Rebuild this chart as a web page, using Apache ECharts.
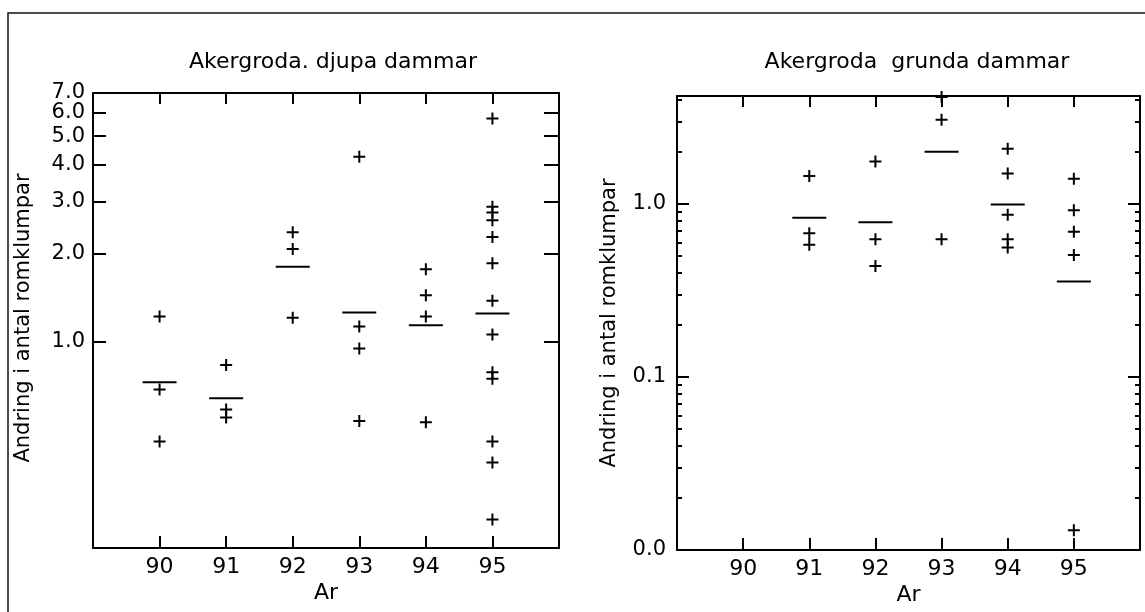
<!DOCTYPE html>
<html>
<head>
<meta charset="utf-8">
<script src="https://cdn.jsdelivr.net/npm/echarts@6/dist/echarts.min.js"></script>
<style>
  html, body { margin: 0; padding: 0; background: #fff; }
  #chart { width: 1145px; height: 612px; }
</style>
</head>
<body>
<div id="chart"></div>
<script>
// Years on the horizontal axis (19xx)
const years = [90, 91, 92, 93, 94, 95];

// Change in number of egg clumps, deep ponds: one list of ponds per year
const djupaValues = [
  [1.22, 0.69, 0.46],
  [0.835, 0.59, 0.555],
  [2.36, 2.07, 1.21],
  [4.25, 1.13, 0.95, 0.54],
  [1.765, 1.44, 1.22, 0.534],
  [5.74, 2.88, 2.75, 2.59, 2.27, 1.85, 1.38, 1.06, 0.79, 0.75, 0.46, 0.39, 0.25]
];
// Yearly mean (horizontal bar), deep ponds
const djupaMeans = [0.73, 0.645, 1.80, 1.26, 1.14, 1.25];

// Change in number of egg clumps, shallow ponds
const grundaValues = [
  [],
  [1.45, 0.677, 0.58],
  [1.756, 0.625, 0.438],
  [4.15, 3.06, 0.625],
  [2.08, 1.50, 0.864, 0.625, 0.56],
  [1.395, 0.92, 0.69, 0.507, 0.013]
];
// Yearly mean (horizontal bar), shallow ponds
const grundaMeans = [null, 0.83, 0.784, 2.0, 0.99, 0.356];

// Tick and label values of the logarithmic y axes
const djupaTicks = [1, 2, 3, 4, 5, 6, 7];
const djupaTopLabel = [7];
const grundaMajorTicks = [0.01, 0.1, 1];
const grundaMinorTicks = [0.02, 0.03, 0.04, 0.05, 0.06, 0.07, 0.08, 0.09,
                          0.2, 0.3, 0.4, 0.5, 0.6, 0.7, 0.8, 0.9, 2, 3, 4];

const titles = ['Akergroda. djupa dammar', 'Akergroda  grunda dammar'];
const yName = 'Andring i antal romklumpar';
const xName = 'Ar';

const FONT = '"DejaVu Sans", "Liberation Sans", sans-serif';
const INK = '#000';
// log10, nudged inwards a hair so end values stay inside the axis extent
const lg = v => Math.log10(v);
const lgIn = (v, lo, hi) => Math.min(Math.max(lg(v), lg(lo) + 1e-9), lg(hi) - 1e-9);

const points = (vals) => years.flatMap((yr, i) => vals[i].map(v => [yr, v]));
const means = (vals) => years.map((yr, i) => vals[i] == null ? null : [yr, vals[i]]).filter(Boolean);

const PLUS = 'path://M5,0H7V5H12V7H7V12H5V7H0V5H5Z';

const grids = [
  { left: 93, top: 93, width: 466, height: 455, outerBoundsMode: 'none' },
  { left: 677, top: 96, width: 463, height: 454, outerBoundsMode: 'none' }
];

function xAxes(gridIndex) {
  const common = {
    gridIndex, type: 'value', min: 89, max: 96, interval: 1,
    splitLine: { show: false },
    axisLine: { onZero: false, lineStyle: { color: INK, width: 2 } }
  };
  return [
    Object.assign({}, common, {
      position: 'bottom',
      axisTick: { inside: true, length: 12, customValues: years, lineStyle: { color: INK, width: 2 } },
      axisLabel: { customValues: years, margin: 8, color: INK, fontSize: 22, fontFamily: FONT },
      name: xName, nameLocation: 'middle', nameGap: 34, nameMoveOverlap: false,
      nameTextStyle: { color: INK, fontSize: 22, fontFamily: FONT }
    }),
    Object.assign({}, common, {
      position: 'top',
      axisTick: { inside: true, length: 11, customValues: years, lineStyle: { color: INK, width: 2 } },
      axisLabel: { show: false }
    })
  ];
}

function tickAxis(gridIndex, lo, hi, position, ticks, len, opts) {
  return Object.assign({
    gridIndex, type: 'value', position,
    min: lg(lo), max: lg(hi),
    splitLine: { show: false },
    axisLine: { show: true, onZero: false, lineStyle: { color: INK, width: 2 } },
    axisTick: { show: ticks.length > 0, inside: true, length: len,
                customValues: ticks.length ? ticks.map(v => lgIn(v, lo, hi)) : undefined,
                lineStyle: { color: INK, width: 2 } },
    axisLabel: { show: false }
  }, opts || {});
}

const labelStyle = (margin, ticks, lo, hi) => ({
  show: true,
  customValues: ticks.map(v => lgIn(v, lo, hi)),
  margin, color: INK, fontSize: 21, fontFamily: FONT,
  hideOverlap: false, showMinLabel: true, showMaxLabel: true,
  formatter: v => Math.pow(10, v).toFixed(1)
});

const option = {
  animation: false,
  backgroundColor: '#fff',
  grid: grids,
  xAxis: xAxes(0).concat(xAxes(1)),
  yAxis: [
    // data axes (logarithmic)
    { gridIndex: 0, type: 'log', logBase: 10, min: 0.2, max: 7, position: 'left', show: false },
    { gridIndex: 1, type: 'log', logBase: 10, min: 0.01, max: 4.2, position: 'left', show: false },
    // deep ponds: ticks and labels 1.0 - 6.0
    tickAxis(0, 0.2, 7, 'left', djupaTicks, 13, { axisLabel: labelStyle(8, djupaTicks.slice(0, 6), 0.2, 7) }),
    // deep ponds: the crowded 7.0 label at the top corner, on its own axis
    tickAxis(0, 0.2, 7, 'left', [], 0, {
      axisLine: { show: false },
      axisLabel: labelStyle(8, djupaTopLabel, 0.2, 7)
    }),
    tickAxis(0, 0.2, 7, 'right', djupaTicks.slice(0, 6), 15),
    // shallow ponds: major ticks with labels, minor ticks
    tickAxis(1, 0.01, 4.2, 'left', grundaMajorTicks, 12, { axisLabel: labelStyle(11, grundaMajorTicks, 0.01, 4.2) }),
    tickAxis(1, 0.01, 4.2, 'left', grundaMinorTicks, 5, { axisLine: { show: false } }),
    tickAxis(1, 0.01, 4.2, 'right', grundaMajorTicks, 12),
    tickAxis(1, 0.01, 4.2, 'right', grundaMinorTicks, 5, { axisLine: { show: false } })
  ],
  graphic: [
    { type: 'rect', silent: true, shape: { x: 8, y: 13, width: 1160, height: 650 },
      style: { fill: 'none', stroke: '#111', lineWidth: 1.5 } },
    { type: 'text', x: 333, y: 62, silent: true,
      style: { text: titles[0], font: '22px ' + FONT, fill: INK, align: 'center', verticalAlign: 'middle' } },
    { type: 'text', x: 917, y: 62, silent: true,
      style: { text: titles[1], font: '22px ' + FONT, fill: INK, align: 'center', verticalAlign: 'middle' } },
    { type: 'text', x: 24, y: 318, rotation: Math.PI / 2, silent: true,
      style: { text: yName, font: '21px ' + FONT, fill: INK, align: 'center', verticalAlign: 'middle' } },
    { type: 'text', x: 610, y: 323, rotation: Math.PI / 2, silent: true,
      style: { text: yName, font: '21px ' + FONT, fill: INK, align: 'center', verticalAlign: 'middle' } }
  ],
  series: [
    { type: 'scatter', name: 'djupa', xAxisIndex: 0, yAxisIndex: 0, data: points(djupaValues),
      symbol: PLUS, symbolSize: 12, itemStyle: { color: INK, opacity: 1 } },
    { type: 'scatter', name: 'djupa medel', xAxisIndex: 0, yAxisIndex: 0, data: means(djupaMeans),
      symbol: 'rect', symbolSize: [34, 2], itemStyle: { color: INK, opacity: 1 } },
    { type: 'scatter', name: 'grunda', xAxisIndex: 2, yAxisIndex: 1, data: points(grundaValues),
      symbol: PLUS, symbolSize: 12, itemStyle: { color: INK, opacity: 1 } },
    { type: 'scatter', name: 'grunda medel', xAxisIndex: 2, yAxisIndex: 1, data: means(grundaMeans),
      symbol: 'rect', symbolSize: [34, 2], itemStyle: { color: INK, opacity: 1 } }
  ]
};

const chart = echarts.init(document.getElementById('chart'), null, { renderer: 'canvas' });
chart.setOption(option);
</script>
</body>
</html>
